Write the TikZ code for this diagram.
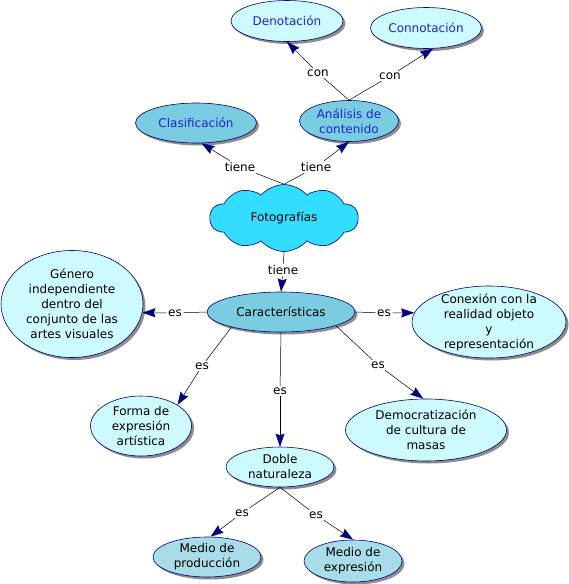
\documentclass[tikz,border=0pt]{standalone}
\usepackage{fontspec}
\setmainfont{DejaVu Sans}
\usetikzlibrary{shapes.geometric,shapes.symbols,arrows.meta,shadows}
\definecolor{lightc}{HTML}{CCFAFF}
\definecolor{midc}{HTML}{7ACCE0}
\definecolor{paleb}{HTML}{A8DCE8}
\definecolor{cloudc}{HTML}{33DDFF}
\definecolor{navyb}{HTML}{000080}
\definecolor{bluet}{HTML}{2222CC}
\begin{document}
\begin{tikzpicture}[x=1pt,y=-1pt,
  every node/.style={font=\fontsize{12}{15}\selectfont, align=center},
  concept/.style={ellipse, draw=navyb, line width=0.6pt, inner sep=0pt,
    drop shadow={shadow xshift=2.5pt, shadow yshift=-2.5pt, fill=black!45, opacity=1}},
  light/.style={concept, fill=lightc},
  mid/.style={concept, fill=midc},
  pale/.style={concept, fill=paleb},
  lbl/.style={inner sep=1.5pt},
  link/.style={draw=black, line width=0.5pt},
  arr/.style={link, -{Stealth[length=13pt,width=9pt,inset=1.5pt,color=navyb]}}
]
\useasboundingbox[fill=white] (0,0) rectangle (568,584);

% concepts
\node[light, text=bluet, minimum width=112pt, minimum height=41pt] (den) at (287,21) {Denotación};
\node[light, text=bluet, minimum width=111pt, minimum height=41pt] (cnn) at (426,28) {Connotación};
\node[mid, text=bluet, minimum width=121pt, minimum height=40pt] (cla) at (196,123) {Clasificación};
\node[mid, text=bluet, minimum width=99pt, minimum height=41pt] (ana) at (349,121) {Análisis de\\contenido};
\node[cloud, cloud puffs=10, cloud puff arc=100, aspect=2.2, draw=navyb, line width=0.6pt, fill=cloudc,
      minimum width=148pt, minimum height=67pt, inner sep=0pt] (foto) at (284,218) {Fotografías};
\node[mid, minimum width=148pt, minimum height=40pt] (car) at (281,312) {Características};
\node[light, minimum width=142pt, minimum height=107pt] (gen) at (72,304)
  {Género\\independiente\\dentro del\\conjunto de las\\artes visuales};
\node[light, inner ysep=-5pt, minimum width=154pt, minimum height=72pt] (cnx) at (489,322)
  {Conexión con la\\realidad objeto\\y\\representación};
\node[light, minimum width=101pt, minimum height=60pt] (forma) at (141,426)
  {Forma de\\expresión\\artística};
\node[light, minimum width=161pt, minimum height=62pt] (dem) at (426,430)
  {Democratización\\de cultura de\\masas};
\node[light, minimum width=108pt, minimum height=40pt] (dob) at (280,467) {Doble\\naturaleza};
\node[pale, minimum width=108pt, minimum height=40pt] (mp) at (207,557) {Medio de\\producción};
\node[pale, minimum width=98pt, minimum height=42pt] (me) at (353,561) {Medio de\\expresión};

% link labels
\node[lbl] (l1) at (318,73) {con};
\node[lbl] (l2) at (390,76) {con};
\node[lbl] (l3) at (240,167) {tiene};
\node[lbl] (l4) at (316,167) {tiene};
\node[lbl] (l5) at (283,270) {tiene};
\node[lbl] (l6) at (175,313) {es};
\node[lbl] (l7) at (384,313) {es};
\node[lbl] (l8) at (202,366) {es};
\node[lbl] (l9) at (280,391) {es};
\node[lbl] (l10) at (378,365) {es};
\node[lbl] (l11) at (242,513) {es};
\node[lbl] (l12) at (316,515) {es};

% connectors
\draw[link] (ana.north) -- (l1); \draw[arr] (l1) -- (den.south);
\draw[link] (ana.north) -- (l2); \draw[arr] (l2) -- (cnn.289);
\draw[link] (foto.north) -- (l3); \draw[arr] (l3) -- (cla.285);
\draw[link] (foto.north) -- (l4); \draw[arr] (l4) -- (ana.south);
\draw[link] (foto.south) -- (l5); \draw[arr] (l5) -- (car.north);
\draw[link] (car.west) -- (l6); \draw[arr] (l6) -- (gen.353);
\draw[link] (car.east) -- (l7); \draw[arr] (l7) -- (cnx.173);
\draw[link] (car.197) -- (l8); \draw[arr] (l8) -- (forma.30);
\draw[link] (car.south) -- (l9); \draw[arr] (l9) -- (dob.north);
\draw[link] (car.346) -- (l10); \draw[arr] (l10) -- (dem.95);
\draw[link] (dob.south) -- (l11); \draw[arr] (l11) -- (mp.80);
\draw[link] (dob.south) -- (l12); \draw[arr] (l12) -- (me.north);
\end{tikzpicture}
\end{document}
